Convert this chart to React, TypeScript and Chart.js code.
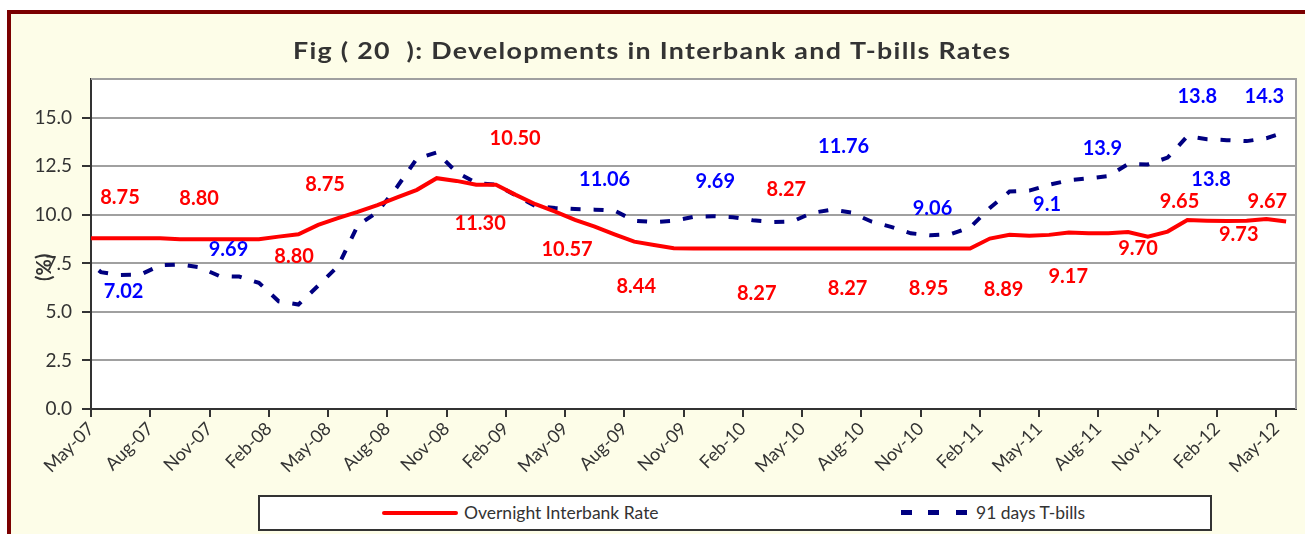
import React, { useEffect, useRef } from 'react';
import { Chart, registerables } from 'chart.js';

Chart.register(...registerables);

// Monthly categories (Apr-07 lies just left of the plotted range and is clipped)
const months = [
  'Apr-07', 'May-07', 'Jun-07', 'Jul-07', 'Aug-07', 'Sep-07', 'Oct-07', 'Nov-07', 'Dec-07',
  'Jan-08', 'Feb-08', 'Mar-08', 'Apr-08', 'May-08', 'Jun-08', 'Jul-08', 'Aug-08', 'Sep-08', 'Oct-08', 'Nov-08', 'Dec-08',
  'Jan-09', 'Feb-09', 'Mar-09', 'Apr-09', 'May-09', 'Jun-09', 'Jul-09', 'Aug-09', 'Sep-09', 'Oct-09', 'Nov-09', 'Dec-09',
  'Jan-10', 'Feb-10', 'Mar-10', 'Apr-10', 'May-10', 'Jun-10', 'Jul-10', 'Aug-10', 'Sep-10', 'Oct-10', 'Nov-10', 'Dec-10',
  'Jan-11', 'Feb-11', 'Mar-11', 'Apr-11', 'May-11', 'Jun-11', 'Jul-11', 'Aug-11', 'Sep-11', 'Oct-11', 'Nov-11', 'Dec-11',
  'Jan-12', 'Feb-12', 'Mar-12', 'Apr-12', 'May-12',
];

const tickLabels = [
  'May-07', 'Aug-07', 'Nov-07', 'Feb-08', 'May-08', 'Aug-08', 'Nov-08', 'Feb-09', 'May-09', 'Aug-09', 'Nov-09',
  'Feb-10', 'May-10', 'Aug-10', 'Nov-10', 'Feb-11', 'May-11', 'Aug-11', 'Nov-11', 'Feb-12', 'May-12',
];

const yTicks = [0, 2.5, 5, 7.5, 10, 12.5, 15];

const interbank = [
  8.8, 8.8, 8.8, 8.8, 8.8, 8.75, 8.75, 8.75, 8.75,
  8.75, 8.88, 9.0, 9.48, 9.83, 10.15, 10.5, 10.9, 11.29, 11.89, 11.75, 11.55,
  11.55, 11.03, 10.55, 10.17, 9.74, 9.4, 9.0, 8.62, 8.45, 8.28, 8.27, 8.27,
  8.27, 8.27, 8.27, 8.27, 8.27, 8.27, 8.27, 8.27, 8.27, 8.27, 8.27, 8.27,
  8.27, 8.78, 8.97, 8.92, 8.97, 9.09, 9.05, 9.05, 9.12, 8.88, 9.14, 9.74,
  9.7, 9.68, 9.7, 9.79, 9.66,
];

const tbills = [
  7.9, 7.05, 6.9, 6.92, 7.4, 7.45, 7.3, 6.85, 6.82,
  6.5, 5.55, 5.38, 6.35, 7.35, 9.45, 10.15, 11.45, 12.9, 13.22, 12.2, 11.65,
  11.55, 11.0, 10.45, 10.35, 10.3, 10.27, 10.22, 9.7, 9.63, 9.7, 9.9, 9.93,
  9.88, 9.72, 9.63, 9.66, 10.1, 10.27, 10.12, 9.66, 9.38, 9.05, 8.95, 9.0,
  9.35, 10.35, 11.2, 11.25, 11.55, 11.78, 11.88, 12.0, 12.62, 12.6, 12.95, 14.05,
  13.9, 13.85, 13.8, 13.95, 14.28,
];

// Value annotations as placed on the chart (x in month-index units, y in %)
const annotationText = [
  '8.75', '8.80', '8.75', '8.80', '10.50', '11.30', '10.57', '8.44', '8.27', '8.27', '8.27', '8.95', '8.89', '9.17', '9.70', '9.65', '9.73', '9.67',
  '7.02', '9.69', '11.06', '9.69', '11.76', '9.06', '13.9', '9.1', '13.8', '14.3', '13.8',
];
const annotationSeries = [
  0, 0, 0, 0, 0, 0, 0, 0, 0, 0, 0, 0, 0, 0, 0, 0, 0, 0,
  1, 1, 1, 1, 1, 1, 1, 1, 1, 1, 1,
];
const annotationX = [
  1.97, 5.97, 12.35, 10.78, 21.97, 20.2, 24.6, 28.1, 34.2, 35.7, 38.8, 42.9, 46.7, 49.97, 53.5, 55.6, 58.6, 60.05,
  2.15, 7.46, 26.5, 32.1, 38.6, 43.1, 51.7, 48.9, 56.5, 59.9, 57.2,
];
const annotationY = [
  10.9, 10.82, 11.55, 7.85, 13.95, 9.57, 8.2, 6.3, 5.96, 11.32, 6.22, 6.22, 6.13, 6.82, 8.25, 10.69, 8.97, 10.69,
  6.05, 8.2, 11.8, 11.72, 13.52, 10.34, 13.44, 10.52, 16.1, 16.1, 11.8,
];

const chartTitle = 'Fig ( 20  ): Developments in Interbank and T-bills Rates';
const seriesNames = ['Overnight Interbank Rate', '91 days T-bills'];
const lineColors = ['#FF0000', '#000080'];
const labelColors = ['#FF0000', '#0000FF'];

const FONT = 'Lato, "DejaVu Sans", sans-serif';
const TITLE_FONT = 'Lato, "DejaVu Sans", sans-serif';
const TEXT = '#333333';

const decorPlugin = {
  id: 'decor',
  beforeDraw(chart: any) {
    const { ctx, chartArea: a } = chart;
    ctx.save();
    ctx.fillStyle = '#FFFFFF';
    ctx.fillRect(a.left, a.top, a.right - a.left, a.bottom - a.top);
    ctx.restore();
  },
  beforeDatasetsDraw(chart: any) {
    const { ctx, chartArea: a } = chart;
    ctx.save();
    ctx.strokeStyle = '#A0A0A0';
    ctx.lineWidth = 2;
    ctx.beginPath();
    ctx.moveTo(a.left, a.top);
    ctx.lineTo(a.right, a.top);
    ctx.lineTo(a.right, a.bottom);
    ctx.stroke();
    ctx.restore();
  },
  afterDatasetsDraw(chart: any) {
    const { ctx } = chart;
    const xs = chart.scales.x;
    const ys = chart.scales.y;
    ctx.save();
    ctx.font = `bold 20px ${FONT}`;
    ctx.textAlign = 'center';
    ctx.textBaseline = 'middle';
    annotationText.forEach((t, i) => {
      ctx.fillStyle = labelColors[annotationSeries[i]];
      ctx.fillText(t, xs.getPixelForValue(annotationX[i]), ys.getPixelForValue(annotationY[i]));
    });
    ctx.restore();
  },
  afterDraw(chart: any) {
    const { ctx, chartArea: a } = chart;
    const ys = chart.scales.y;
    // y-axis title
    ctx.save();
    ctx.translate(a.left - 46, ys.getPixelForValue(7.3));
    ctx.rotate(-Math.PI / 2);
    ctx.font = `bold 20px ${FONT}`;
    ctx.fillStyle = TEXT;
    ctx.textAlign = 'center';
    ctx.textBaseline = 'middle';
    ctx.fillText('(%)', 0, 0);
    ctx.restore();
    // chart title (wide heavy face: stretch the bold glyphs to the reference width)
    ctx.save();
    ctx.font = `bold 22px ${TITLE_FONT}`;
    ctx.fillStyle = TEXT;
    ctx.textAlign = 'left';
    ctx.textBaseline = 'alphabetic';
    const targetWidth = 717;
    const w = ctx.measureText(chartTitle).width;
    const left = 651.5 - targetWidth / 2;
    const sx = targetWidth / w;
    const stretch = Math.min(sx, 1.22);
    const extra = Math.max(0, (targetWidth - w * stretch) / (chartTitle.length - 1));
    ctx.translate(left, 58.5);
    ctx.scale(stretch, 1);
    (ctx as any).letterSpacing = `${extra / stretch}px`;
    ctx.fillText(chartTitle, 0, 0);
    ctx.restore();
  },
};

export default function App() {
  const canvasRef = useRef<HTMLCanvasElement | null>(null);

  useEffect(() => {
    if (!canvasRef.current) return;
    const toPoints = (arr: number[]) => arr.map((v, i) => ({ x: i, y: v }));
    const chart = new Chart(canvasRef.current, {
      type: 'line',
      data: {
        datasets: [
          {
            label: seriesNames[0],
            data: toPoints(interbank),
            borderColor: lineColors[0],
            backgroundColor: lineColors[0],
            borderWidth: 4,
            pointRadius: 0,
            tension: 0,
            clip: 0,
          },
          {
            label: seriesNames[1],
            data: toPoints(tbills),
            borderColor: lineColors[1],
            backgroundColor: lineColors[1],
            borderWidth: 4,
            borderDash: [10, 13],
            pointRadius: 0,
            tension: 0,
            clip: 0,
          },
        ],
      },
      options: {
        responsive: false,
        animation: false,
        devicePixelRatio: 1,
        layout: { padding: { left: 0, right: 9, top: 79, bottom: 0 } },
        plugins: {
          legend: { display: false },
          tooltip: { enabled: false },
          title: { display: false },
        },
        scales: {
          x: {
            type: 'linear',
            min: 0.5,
            max: months.length - 0.5,
            afterBuildTicks: (scale: any) => {
              scale.ticks = tickLabels.map((l) => ({ value: months.indexOf(l) - 0.5 }));
            },
            afterFit: (scale: any) => {
              scale.height = 125;
            },
            grid: { drawOnChartArea: false, drawTicks: true, tickLength: 8, color: TEXT, lineWidth: 2 },
            border: { display: true, color: TEXT, width: 2 },
            ticks: {
              autoSkip: false,
              minRotation: 45,
              maxRotation: 45,
              padding: 1,
              color: TEXT,
              font: { family: FONT, size: 18 },
              callback: (v: any) => months[Math.round(Number(v) + 0.5)] ?? '',
            },
          },
          y: {
            min: 0,
            max: 17,
            afterBuildTicks: (scale: any) => {
              scale.ticks = yTicks.map((v) => ({ value: v }));
            },
            afterFit: (scale: any) => {
              scale.width = 91;
            },
            grid: { color: '#A0A0A0', lineWidth: 2, tickColor: TEXT, tickLength: 9 },
            border: { display: true, color: TEXT, width: 2 },
            ticks: {
              padding: 10,
              color: TEXT,
              font: { family: FONT, size: 19 },
              callback: (v: any) => Number(v).toFixed(1),
            },
          },
        },
      },
      plugins: [decorPlugin],
    });
    return () => chart.destroy();
  }, []);

  const legendTextStyle: React.CSSProperties = {
    position: 'absolute',
    top: 5,
    fontFamily: FONT,
    fontSize: 17.5,
    lineHeight: '21px',
    color: TEXT,
    whiteSpace: 'nowrap',
  };

  return (
    <div style={{ position: 'absolute', left: 0, top: 0, width: 1305, height: 534, overflow: 'hidden' }}>
      <div
        style={{
          position: 'absolute',
          left: 7,
          top: 10,
          width: 1320,
          height: 560,
          border: '4px solid #7B0000',
          background: '#FDFDE8',
        }}
      />
      <canvas
        ref={canvasRef}
        width={1305}
        height={534}
        style={{ position: 'absolute', left: 0, top: 0, width: 1305, height: 534 }}
      />
      <div
        style={{
          position: 'absolute',
          left: 258,
          top: 495,
          width: 954,
          height: 36,
          boxSizing: 'border-box',
          border: '2px solid #333',
          background: '#FFFFFF',
        }}
      >
        <div style={{ position: 'absolute', left: 122, top: 14, width: 76, height: 4, background: lineColors[0], borderRadius: 2 }} />
        <span style={{ ...legendTextStyle, left: 204 }}>{seriesNames[0]}</span>
        {[641, 668, 696].map((l) => (
          <div key={l} style={{ position: 'absolute', left: l, top: 13, width: 11, height: 5, background: lineColors[1] }} />
        ))}
        <span style={{ ...legendTextStyle, left: 716 }}>{seriesNames[1]}</span>
      </div>
    </div>
  );
}
